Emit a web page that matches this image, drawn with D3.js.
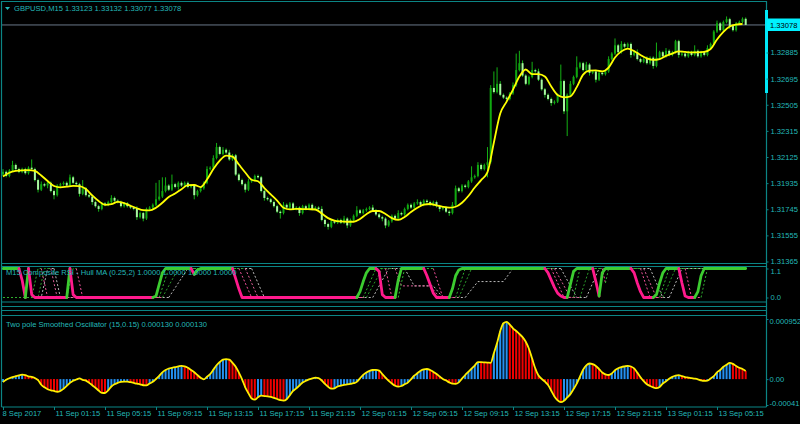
<!DOCTYPE html>
<html>
<head>
<meta charset="utf-8">
<title>GBPUSD,M15</title>
<style>
  body { margin: 0; background: #000; }
  svg { display: block; }
</style>
</head>
<body>
<script src="https://d3js.org/d3.v7.min.js"></script>
<script>
// ---- values (one entry per M15 bar) ----
const open0 = 1.3199;
const closes = [
  1.3201,1.3198,1.3202,1.3206,1.3203,1.3201,1.3203,1.3200,1.3204,1.3203,
  1.3195,1.3188,1.3192,1.3191,1.3193,1.3187,1.3184,1.3191,1.3192,1.3193,
  1.3191,1.3197,1.3193,1.3192,1.3185,1.3189,1.3184,1.3183,1.3179,1.3176,
  1.3174,1.3178,1.3177,1.3179,1.3182,1.3180,1.3179,1.3176,1.3178,1.3176,
  1.3175,1.3174,1.3168,1.3171,1.3167,1.3174,1.3175,1.3177,1.3181,1.3183,
  1.3187,1.3191,1.3188,1.3192,1.3190,1.3193,1.3191,1.3193,1.3190,1.3191,
  1.3184,1.3187,1.3189,1.3193,1.3203,1.3204,1.3211,1.3219,1.3214,1.3217,
  1.3215,1.3210,1.3213,1.3199,1.3195,1.3192,1.3188,1.3194,1.3195,1.3198,
  1.3197,1.3187,1.3182,1.3181,1.3179,1.3176,1.3172,1.3171,1.3177,1.3175,
  1.3178,1.3174,1.3175,1.3171,1.3176,1.3174,1.3177,1.3174,1.3175,1.3174,
  1.3166,1.3163,1.3161,1.3165,1.3164,1.3166,1.3164,1.3167,1.3162,1.3166,
  1.3169,1.3173,1.3171,1.3173,1.3174,1.3175,1.3173,1.3170,1.3168,1.3167,
  1.3162,1.3165,1.3169,1.3167,1.3171,1.3170,1.3174,1.3177,1.3175,1.3178,
  1.3179,1.3177,1.3180,1.3179,1.3177,1.3179,1.3176,1.3174,1.3175,1.3172,
  1.3171,1.3177,1.3189,1.3187,1.3191,1.3190,1.3194,1.3197,1.3198,1.3206,
  1.3203,1.3206,1.3208,1.3262,1.3259,1.3265,1.3257,1.3255,1.3254,1.3258,
  1.3264,1.3275,1.3280,1.3271,1.3265,1.3270,1.3275,1.3274,1.3268,1.3261,
  1.3257,1.3254,1.3251,1.3252,1.3257,1.3267,1.3245,1.3257,1.3265,1.3270,
  1.3277,1.3280,1.3275,1.3279,1.3273,1.3274,1.3268,1.3273,1.3272,1.3274,
  1.3283,1.3287,1.3293,1.3288,1.3294,1.3292,1.3294,1.3286,1.3288,1.3283,
  1.3281,1.3283,1.3280,1.3284,1.3278,1.3284,1.3288,1.3285,1.3289,1.3286,
  1.3288,1.3296,1.3286,1.3287,1.3285,1.3288,1.3286,1.3289,1.3285,1.3288,
  1.3286,1.3291,1.3294,1.3303,1.3309,1.3304,1.3310,1.3312,1.3307,1.3304,
  1.3309,1.3310,1.33123,1.33078
];
// wick length above / below the body, in pips
const wickUp = [
  2,1,1,3,1,1,1,1,1,6, 1,1,2,1,1,1,1,1,1,1, 1,2,1,1,1,6,1,1,1,1, 1,1,1,1,2,1,1,1,1,1,
  1,1,2,1,1,1,1,1,12,12, 10,6,1,7,1,1,1,1,1,1, 1,1,1,1,2,1,2,3,1,2, 1,2,1,1,1,1,1,2,1,1,
  1,1,1,1,1,1,1,1,2,1, 1,1,1,1,1,1,1,1,1,1, 2,1,1,1,1,1,1,2,1,1, 1,3,1,1,1,1,2,1,1,1,
  1,1,1,1,2,1,1,1,1,1, 2,1,1,1,1,1,1,1,1,1, 1,2,2,1,1,1,1,8,1,2, 1,1,11,2,12,12,2,1,1,1,
  2,12,9,2,1,1,6,1,2,1, 1,1,1,1,1,12,1,1,2,1, 8,1,1,2,1,1,1,1,1,1, 2,1,5,1,2,1,1,1,1,2,
  1,1,2,1,1,11,1,1,2,1, 1,1,1,2,1,1,1,4,1,1, 1,2,1,1,2,1,1,2,1,1, 1,1,1,1
];
const wickDn = [
  1,1,1,1,1,1,1,1,1,1, 1,2,1,1,2,1,3,1,1,1, 1,1,1,1,2,1,1,1,2,1, 2,1,1,1,1,1,1,1,1,1,
  1,1,2,1,2,1,1,1,1,1, 1,1,1,1,1,2,1,1,1,1, 3,1,1,1,1,1,1,1,1,1, 1,1,1,1,1,1,2,1,1,1,
  1,1,2,1,1,1,1,4,1,1, 1,1,1,2,1,1,1,1,1,1, 1,2,2,1,1,1,1,1,2,1, 1,1,1,1,1,1,1,1,1,2,
  2,1,1,1,1,1,1,1,1,1, 1,1,1,1,1,1,1,2,1,1, 2,1,1,1,1,1,1,1,1,1, 1,1,9,1,1,1,1,1,2,1,
  1,1,1,1,1,1,1,1,1,1, 2,1,2,1,1,1,2,18,1,1, 1,1,1,1,2,1,2,1,1,1, 1,1,1,1,1,1,1,2,1,1,
  1,1,1,1,2,1,1,1,1,1, 1,1,2,1,1,1,1,1,1,1, 1,1,1,1,1,1,1,1,2,1, 1,1,1,0
];
// yellow moving average, read every second bar
const maEvery2 = [
  1.31976,1.32003,1.32016,1.32021,1.32022,1.32016,1.31983,1.31943,1.31907,1.31897,
  1.31902,1.31908,1.31906,1.31885,1.31838,1.31797,1.31770,1.31775,1.31791,1.31783,
  1.31763,1.31745,1.31731,1.31729,1.31749,1.31785,1.31827,1.31852,1.31884,1.31913,
  1.31914,1.31899,1.31954,1.32030,1.32092,1.32128,1.32121,1.32063,1.32005,1.31952,
  1.31941,1.31892,1.31846,1.31801,1.31749,1.31737,1.31740,1.31739,1.31738,1.31736,
  1.31707,1.31673,1.31655,1.31649,1.31647,1.31647,1.31667,1.31702,1.31725,1.31725,
  1.31703,1.31673,1.31660,1.31681,1.31718,1.31748,1.31771,1.31776,1.31766,1.31755,
  1.31749,1.31756,1.31785,1.31834,1.31896,1.31950,1.32008,1.32223,1.32434,1.32521,
  1.32608,1.32703,1.32754,1.32721,1.32721,1.32703,1.32630,1.32568,1.32552,1.32559,
  1.32626,1.32717,1.32746,1.32748,1.32741,1.32768,1.32841,1.32886,1.32906,1.32888,
  1.32859,1.32835,1.32824,1.32830,1.32853,1.32870,1.32886,1.32882,1.32879,1.32879,
  1.32882,1.32903,1.32972,1.33028,1.33067,1.33081,1.33085
];
// Two pole smoothed oscillator, in millionths
const oscMicro = [
  -46,-11,14,33,46,60,71,65,44,36, 17,-17,-89,-130,-160,-177,-188,-200,-188,-152,
  -108,-60,-25,-6,11,-11,-25,-57,-97,-136, -181,-217,-220,-177,-117,-82,-59,-44,-41,-41,
  -49,-60,-73,-82,-97,-99,-70,-43,2,52, 108,144,168,177,188,201,211,203,179,144,
  109,65,21,-3,38,81,150,219,271,309, 318,309,258,195,103,-3,-130,-225,-306,-326,
  -288,-263,-268,-272,-282,-298,-315,-331,-340,-318, -255,-188,-146,-101,-55,-27,-3,10,25,17,
  -22,-76,-122,-152,-146,-117,-103,-90,-84,-76, -65,-44,13,68,106,131,144,146,135,79,
  25,-27,-70,-106,-120,-109,-82,-55,-3,54, 92,133,154,160,144,114,82,41,3,-22,
  -52,-73,-74,-51,8,65,116,166,215,270, 268,265,262,258,410,570,762,885,908,862,
  805,762,716,664,591,480,325,168,57,5, -41,-93,-184,-274,-337,-364,-342,-291,-238,-158,
  -71,38,149,217,247,236,208,160,105,74, 65,90,141,171,190,201,209,200,169,103,
  30,-33,-82,-109,-130,-144,-124,-70,-36,6, 35,57,62,46,33,25,16,8,-3,-21,
  -29,-25,10,46,108,144,195,228,258,241, 208,179,160,130
];
// Composite RSI / Hull MA (M15) line, as break points (bar, value)
const rsiBars = [0,5,6,7,8,9,10,20,21,22,23,47,48,49,50,51,59,60,61,62,72,73,74,75,111,112,113,114,115,117,118,119,120,123,124,125,132,133,134,135,136,140,141,142,143,144,170,171,172,173,174,175,176,177,178,179,180,185,186,187,188,189,197,198,199,200,201,204,205,206,207,208,212,213,214,215,217,218,219,220,233];
const rsiVals = [1,1,0.6,0,1,0.1,0,0,1,0.1,0,0,0.05,0.45,0.85,1,1,0.8,0.95,1,1,0.65,0.3,0,0,0.2,0.55,0.85,1,1,0.9,0.1,0,0,0.6,1,1,0.75,0.45,0.15,0,0,0.3,0.75,0.95,1,1,0.85,0.6,0.35,0.15,0.05,0,0,0.45,0.9,1,1,0.55,0.05,0.85,1,1,0.85,0.5,0.2,0,0,0.1,0.5,0.85,1,1,0.5,0.05,0,0,0.2,0.75,1,1];
// the three slower composite lines drawn dotted
const dot1Bars = [0,9,11,12,14,20,22,23,25,49,52,74,78,113,117,120,122,124,126,135,138,142,145,172,176,179,181,188,189,190,200,203,206,209,214,216,219,221,233];
const dot1Vals = [0,0,1,1,0,0,1,1,0,0,1,1,0,0,1,1,0,0,1,1,0,0,1,1,0,0,1,1,0.5,1,1,0,0,1,1,0,0,1,1];
const dot2Bars = [0,11,13,15,17,50,55,76,80,114,119,123,125,134,137,143,147,173,178,181,184,201,205,207,211,233];
const dot2Vals = [0,0,1,1,0,0,1,1,0,0,1,1,0.4,0.4,0,0,1,1,0,0,1,1,0,0,1,1];
const dot3Bars = [0,12,14,16,18,52,58,78,82,116,121,126,129,135,138,145,149,157,160,175,180,183,187,203,207,209,213,233];
const dot3Vals = [0,0,1,1,0,0,1,1,0,0,1,1,0.4,0.4,0,0,0.55,0.55,1,1,0,0,1,1,0,0,1,1];

const priceTicks = [1.32885, 1.32695, 1.32505, 1.32315, 1.32125, 1.31935, 1.31745, 1.31555, 1.31365];
const bid = 1.33078;
const oscTicks = [952, 0, -410];
const oscTickLabels = ['0.000952', '0.00', '-0.00041'];
const rsiTicks = [1, 0];
const rsiTickLabels = ['1.1', '0.0'];
const timeBars = [0, 16, 32, 48, 64, 80, 96, 112, 128, 144, 160, 176, 192, 208, 224];
const timeLabels = ['8 Sep 2017', '11 Sep 01:15', '11 Sep 05:15', '11 Sep 09:15', '11 Sep 13:15',
  '11 Sep 17:15', '11 Sep 21:15', '12 Sep 01:15', '12 Sep 05:15', '12 Sep 09:15', '12 Sep 13:15',
  '12 Sep 17:15', '12 Sep 21:15', '13 Sep 01:15', '13 Sep 05:15'];
const title = 'GBPUSD,M15  1.33123 1.33132 1.33077 1.33078';
const rsiTitle = 'M15 Composite RSI - Hull MA (0.25,2) 1.0000 1.0000 1.0000 1.0000';
const oscTitle = 'Two pole Smoothed Oscillator (15,0.15) 0.000130 0.000130';

// ---- layout & colours ----
const w = 800, h = 424;
const L = 1.5, R = 766.5;
const frame = '#0b8585', txt = '#23b9b9';
const font = "'Liberation Sans', Arial, sans-serif";
const fs = 7.6;
const upCol = '#3ccc30', dnCol = '#ff1a8c';

const svg = d3.select('body').append('svg').attr('width', w).attr('height', h)
  .style('background', '#000');

const x = d3.scaleLinear().domain([0, closes.length - 1]).range([3, 3 + (closes.length - 1) * 3.1875]);
const yP = d3.scaleLinear().domain([1.31365, 1.32885]).range([260.5, 51.5]);
const yR = d3.scaleLinear().domain([0, 1]).range([297.5, 268.5]);
const yO = d3.scaleLinear().domain([-410, 952]).range([405, 319]);

svg.append('clipPath').attr('id', 'cp').append('rect').attr('x', 2).attr('y', 2).attr('width', 764).attr('height', 261);
svg.append('clipPath').attr('id', 'cr').append('rect').attr('x', 2).attr('y', 267).attr('width', 764).attr('height', 35);

// ---- price pane ----
const gp = svg.append('g').attr('clip-path', 'url(#cp)');
gp.append('line').attr('x1', L).attr('x2', R).attr('y1', yP(bid)).attr('y2', yP(bid))
  .attr('stroke', '#6a7888').attr('stroke-width', 1);

const pip = 0.0001;
const candles = closes.map((c, i) => {
  const o = i ? closes[i - 1] : open0;
  return {i, o, c, hi: Math.max(o, c) + wickUp[i] * pip, lo: Math.min(o, c) - wickDn[i] * pip};
});
const bullCol = '#10a810', bearCol = '#a8f8a0', wickCol = '#14b014';
gp.selectAll('line.wick').data(candles).join('line').attr('class', 'wick')
  .attr('x1', d => x(d.i)).attr('x2', d => x(d.i))
  .attr('y1', d => yP(d.hi)).attr('y2', d => yP(d.lo))
  .attr('stroke', wickCol).attr('stroke-width', 1);
gp.selectAll('rect.body').data(candles).join('rect').attr('class', 'body')
  .attr('x', d => x(d.i) - 1).attr('width', 2)
  .attr('y', d => yP(Math.max(d.o, d.c)))
  .attr('height', d => Math.max(1, yP(Math.min(d.o, d.c)) - yP(Math.max(d.o, d.c))))
  .attr('fill', d => d.c >= d.o ? bullCol : bearCol);

gp.append('path').datum(maEvery2)
  .attr('d', d3.line().x((d, k) => x(2 * k)).y(d => yP(d)).curve(d3.curveMonotoneX))
  .attr('fill', 'none').attr('stroke', '#ffff00').attr('stroke-width', 1.8);

// ---- composite RSI pane ----
// split a break-point line into runs that go up (green) or down (pink)
function runs(bars, vals) {
  const out = [];
  let dir = 1;
  for (let k = 1; k < bars.length; k++) {
    const dv = vals[k] - vals[k - 1];
    if (dv > 0) dir = 1; else if (dv < 0) dir = -1;
    const p0 = [bars[k - 1], vals[k - 1]], p1 = [bars[k], vals[k]];
    const last = out[out.length - 1];
    if (last && last.dir === dir) last.pts.push(p1);
    else out.push({dir, pts: [p0, p1]});
  }
  return out;
}
const rline = d3.line().x(p => x(p[0])).y(p => yR(p[1]));
const gr = svg.append('g').attr('clip-path', 'url(#cr)');
const dotted = [
  {bars: dot3Bars, vals: dot3Vals, col: () => '#b8b8b8'},
  {bars: dot2Bars, vals: dot2Vals, col: s => s.dir > 0 ? '#2a9a2a' : '#e0609a'},
  {bars: dot1Bars, vals: dot1Vals, col: s => s.dir > 0 ? '#2fb02f' : '#f0509a'}
];
dotted.forEach(dl => {
  gr.append('g').selectAll('path').data(runs(dl.bars, dl.vals)).join('path')
    .attr('d', s => rline(s.pts))
    .attr('fill', 'none').attr('stroke', dl.col).attr('stroke-width', 1)
    .attr('stroke-dasharray', '2,2');
});
gr.append('g').selectAll('path').data(runs(rsiBars, rsiVals)).join('path')
  .attr('d', s => rline(s.pts))
  .attr('fill', 'none').attr('stroke', s => s.dir > 0 ? upCol : dnCol)
  .attr('stroke-width', 2.8).attr('stroke-linejoin', 'round').attr('stroke-linecap', 'round');

// ---- oscillator pane ----
const go = svg.append('g');
go.selectAll('line.hist').data(oscMicro).join('line').attr('class', 'hist')
  .attr('x1', (d, i) => x(i)).attr('x2', (d, i) => x(i))
  .attr('y1', yO(0)).attr('y2', d => yO(d))
  .attr('stroke', (d, i) => (i === 0 || d >= oscMicro[i - 1]) ? '#2490f0' : '#f00000')
  .attr('stroke-width', 2);
go.append('path').datum(oscMicro)
  .attr('d', d3.line().x((d, i) => x(i)).y(d => yO(d)).curve(d3.curveMonotoneX))
  .attr('fill', 'none').attr('stroke', '#ffee00').attr('stroke-width', 1.8);

// ---- frames ----
const fr = svg.append('g').attr('stroke', frame).attr('stroke-width', 1.2).attr('fill', 'none');
[1.5, 263.5, 266.5, 302, 306.5, 310.5, 315.5, 407].forEach(yy =>
  fr.append('line').attr('x1', L).attr('x2', R).attr('y1', yy).attr('y2', yy));
fr.append('line').attr('x1', L).attr('x2', L).attr('y1', 1).attr('y2', 407);
fr.append('line').attr('x1', R).attr('x2', R).attr('y1', 1).attr('y2', 407);
svg.append('rect').attr('x', 765).attr('y', 10).attr('width', 3).attr('height', 83).attr('fill', '#00e8f8');

// ---- axes ----
function styleAxis(g) {
  g.select('.domain').remove();
  g.attr('font-size', fs).attr('font-family', font);
  g.selectAll('.tick line').attr('stroke', frame);
  g.selectAll('.tick text').attr('fill', txt);
}
svg.append('g').attr('transform', `translate(${R},1)`)
  .call(d3.axisRight(yP).tickValues(priceTicks).tickSize(2).tickPadding(2).tickFormat(d3.format('.5f')))
  .call(styleAxis);
const rAx = svg.append('g').attr('transform', `translate(${R},0)`)
  .call(d3.axisRight(yR).tickValues(rsiTicks).tickSize(2).tickPadding(2).tickFormat((d, i) => rsiTickLabels[i]))
  .call(styleAxis);
rAx.selectAll('.tick text').attr('dy', (d, i) => ['0.7em', '0.32em'][i]);
const oAx = svg.append('g').attr('transform', `translate(${R},0)`)
  .call(d3.axisRight(yO).tickValues(oscTicks).tickSize(2).tickPadding(1).tickFormat((d, i) => oscTickLabels[i]))
  .call(styleAxis);
oAx.selectAll('.tick text').attr('dy', (d, i) => ['0.65em', '0.32em', '0em'][i]);
const tAx = svg.append('g').attr('transform', 'translate(0,407)')
  .call(d3.axisBottom(x).tickValues(timeBars).tickSize(3).tickPadding(1).tickFormat((d, i) => timeLabels[i]))
  .call(styleAxis);
tAx.attr('text-anchor', 'start');
tAx.selectAll('.tick text').attr('x', (d, i) => i ? 1 : -1);

// bid price tag
svg.append('rect').attr('x', 767).attr('y', 18.5).attr('width', 33).attr('height', 12.5).attr('fill', '#00f0ff');
svg.append('text').attr('x', 770).attr('y', 27.8).text(d3.format('.5f')(bid))
  .attr('font-size', fs).attr('font-family', font).attr('fill', '#000');

// ---- titles ----
svg.append('path').attr('d', 'M5,7 L10,7 L7.5,10 Z').attr('fill', txt);
const texts = [[title, 14, 10.8], [rsiTitle, 6, 275], [oscTitle, 6, 327]];
svg.selectAll('text.ttl').data(texts).join('text').attr('class', 'ttl')
  .attr('x', d => d[1]).attr('y', d => d[2]).text(d => d[0])
  .attr('font-size', fs).attr('font-family', font).attr('fill', txt);
</script>
</body>
</html>
